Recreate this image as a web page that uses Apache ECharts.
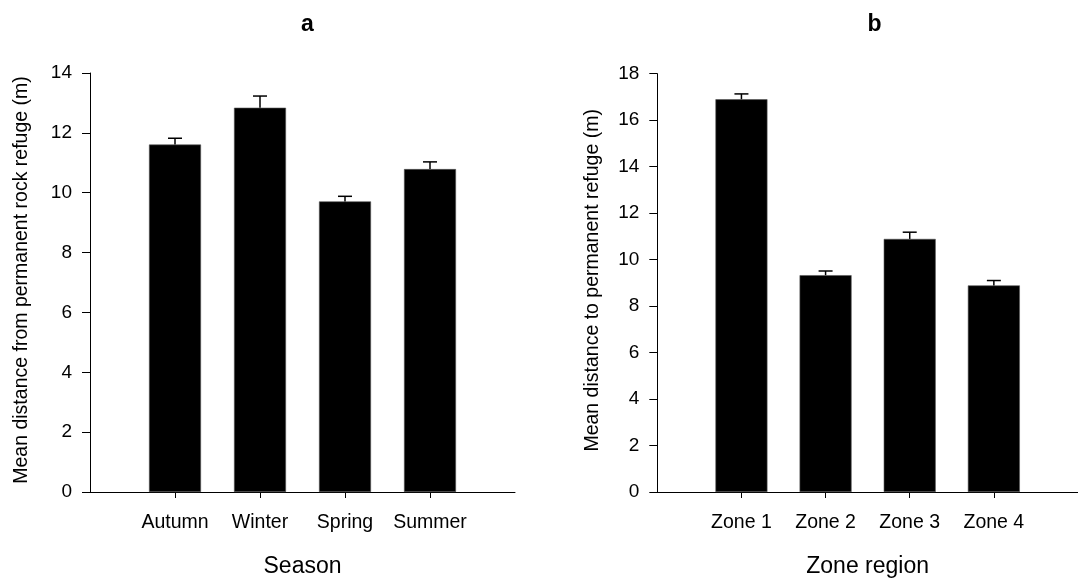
<!DOCTYPE html>
<html>
<head>
<meta charset="utf-8">
<script src="https://cdn.jsdelivr.net/npm/echarts@6/dist/echarts.min.js"></script>
<style>
html,body{margin:0;padding:0;background:#fff;}
#chart{width:1078px;height:583px;}
</style>
</head>
<body>
<div id="chart"></div>
<script>
// Panel a
const seasons = ['Autumn', 'Winter', 'Spring', 'Summer'];
const seasonMeans = [11.61, 12.84, 9.71, 10.79];
const seasonErr = [0.21, 0.39, 0.17, 0.24];
const seasonTicks = [0, 2, 4, 6, 8, 10, 12, 14];
// Panel b
const zones = ['Zone 1', 'Zone 2', 'Zone 3', 'Zone 4'];
const zoneMeans = [16.90, 9.33, 10.89, 8.89];
const zoneErr = [0.23, 0.18, 0.29, 0.21];
const zoneTicks = [0, 2, 4, 6, 8, 10, 12, 14, 16, 18];

const FONT = 'Liberation Sans, Arial, sans-serif';
const chart = echarts.init(document.getElementById('chart'), null, {renderer: 'canvas'});

function xAxisFor(cats, name, gridIndex) {
  return {
    type: 'category', gridIndex: gridIndex,
    data: [''].concat(cats).concat(['']),
    boundaryGap: false,
    name: name, nameLocation: 'middle', nameGap: 63,
    nameTextStyle: {fontFamily: FONT, fontSize: 23, color: '#000'},
    axisLine: {lineStyle: {color: '#000', width: 1}},
    axisTick: {show: true, length: 6, lineStyle: {color: '#000'},
      interval: function (i) { return i > 0 && i <= cats.length; }},
    axisLabel: {fontFamily: FONT, fontSize: 19.5, color: '#000', margin: 21,
      interval: function (i) { return i > 0 && i <= cats.length; }},
    splitLine: {show: false}
  };
}
function yAxisFor(ticks, name, gridIndex, gap) {
  return {
    type: 'value', gridIndex: gridIndex,
    min: ticks[0], max: ticks[ticks.length - 1], interval: ticks[1] - ticks[0],
    name: name, nameLocation: 'middle', nameGap: gap,
    nameTextStyle: {fontFamily: FONT, fontSize: 19.5, color: '#000', padding: [0, 0, 0, 5]},
    axisLine: {show: true, lineStyle: {color: '#000', width: 1}},
    axisTick: {show: true, length: 8, lineStyle: {color: '#000'}},
    axisLabel: {fontFamily: FONT, fontSize: 19, color: '#000', margin: 18},
    splitLine: {show: false}
  };
}
function barSeries(cats, means, idx) {
  return {
    type: 'bar', xAxisIndex: idx, yAxisIndex: idx,
    barWidth: 52,
    itemStyle: {color: '#000', borderColor: '#555', borderWidth: 0.6},
    data: cats.map(function (c, i) { return [c, means[i]]; }),
    z: 2
  };
}
function errSeries(cats, means, errs, idx) {
  return {
    type: 'custom', xAxisIndex: idx, yAxisIndex: idx,
    data: cats.map(function (c, i) { return [c, means[i], means[i] + errs[i]]; }),
    encode: {x: 0, y: [1, 2]},
    renderItem: function (params, api) {
      const x = api.value(0);
      const p0 = api.coord([x, api.value(1)]);
      const p1 = api.coord([x, api.value(2)]);
      const hw = 7;
      const st = {stroke: '#000', lineWidth: 1.5, fill: null};
      return {
        type: 'group',
        children: [
          {type: 'line', shape: {x1: p0[0], y1: p0[1], x2: p1[0], y2: p1[1]}, style: st},
          {type: 'line', shape: {x1: p1[0] - hw, y1: p1[1], x2: p1[0] + hw, y2: p1[1]}, style: st}
        ]
      };
    },
    z: 3
  };
}

chart.setOption({
  backgroundColor: '#fff',
  animation: false,
  title: [
    {text: 'a', left: 302.5, top: 8, textAlign: 'center',
     textStyle: {fontFamily: FONT, fontSize: 23, fontWeight: 'bold', color: '#000'}},
    {text: 'b', left: 869.5, top: 8, textAlign: 'center',
     textStyle: {fontFamily: FONT, fontSize: 23, fontWeight: 'bold', color: '#000'}}
  ],
  grid: [
    {left: 90, top: 73, width: 425, height: 424.7, containLabel: false},
    {left: 657.3, top: 73.7, width: 425, height: 424, containLabel: false}
  ],
  xAxis: [xAxisFor(seasons, 'Season', 0), xAxisFor(zones, 'Zone region', 1)],
  yAxis: [
    yAxisFor(seasonTicks, 'Mean distance from permanent rock refuge (m)', 0, 58),
    yAxisFor(zoneTicks, 'Mean distance to permanent refuge (m)', 1, 55)
  ],
  series: [
    barSeries(seasons, seasonMeans, 0),
    errSeries(seasons, seasonMeans, seasonErr, 0),
    barSeries(zones, zoneMeans, 1),
    errSeries(zones, zoneMeans, zoneErr, 1)
  ]
});
</script>
</body>
</html>
